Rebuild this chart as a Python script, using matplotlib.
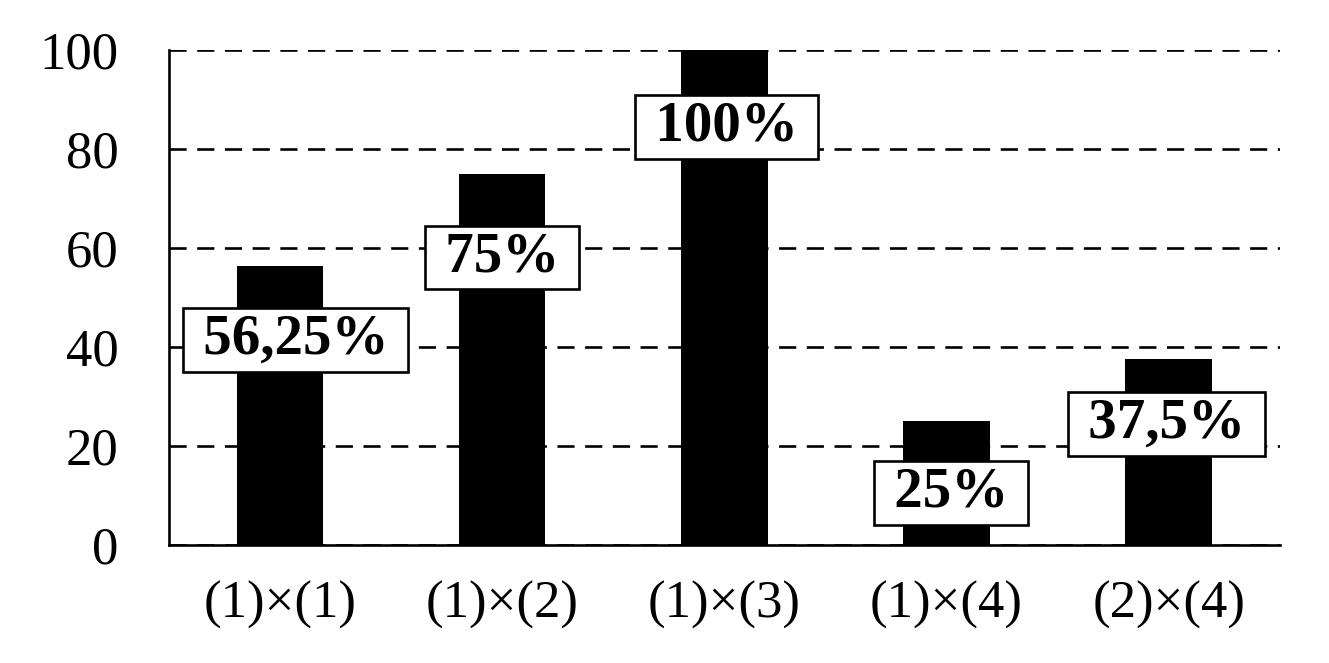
import matplotlib
matplotlib.use("Agg")
import matplotlib.pyplot as plt
import numpy as np

categories = ["(1)×(1)", "(1)×(2)", "(1)×(3)", "(1)×(4)", "(2)×(4)"]
values = [56.25, 75, 100, 25, 37.5]
labels = ["56,25%", "75%", "100%", "25%", "37,5%"]
label_x = [0.07, 0.0, 0.01, 0.02, -0.01]
label_y = [41.4, 58.0, 84.4, 10.5, 24.4]
yticks = [0, 20, 40, 60, 80, 100]

plt.rcParams["font.family"] = ["Liberation Serif", "DejaVu Serif"]

fig = plt.figure(figsize=(13.29, 6.63), dpi=100)
ax = fig.add_axes([0.127, 0.178, 0.836, 0.747])

x = np.arange(len(categories))
ax.bar(x, values, width=0.39, color="black", zorder=3)

# data labels in white boxes
for i, (lx, ly, t) in enumerate(zip(label_x, label_y, labels)):
    ax.text(i + lx, ly, " " + t + " ", ha="center", va="center", fontsize=41, fontweight="bold",
            zorder=4,
            bbox=dict(boxstyle="square,pad=0.1", facecolor="white", edgecolor="black", linewidth=1.9))

ax.set_xlim(-0.5, 4.5)
ax.set_ylim(0, 100)
ax.set_xticks(x)
ax.set_xticklabels(categories, fontsize=38)
ax.set_yticks(yticks)
ax.set_yticklabels([str(v) for v in yticks], fontsize=38)
ax.tick_params(axis="both", length=0)
ax.tick_params(axis="y", pad=36)
ax.tick_params(axis="x", pad=26)

ax.yaxis.grid(True, linestyle=(0, (6.5, 4)), color="black", linewidth=1.9, zorder=1)
ax.set_axisbelow(True)
for s in ["top", "right"]:
    ax.spines[s].set_visible(False)
for s in ["left", "bottom"]:
    ax.spines[s].set_linewidth(1.9)
    ax.spines[s].set_zorder(5)

fig.savefig("out.png", dpi=100)
